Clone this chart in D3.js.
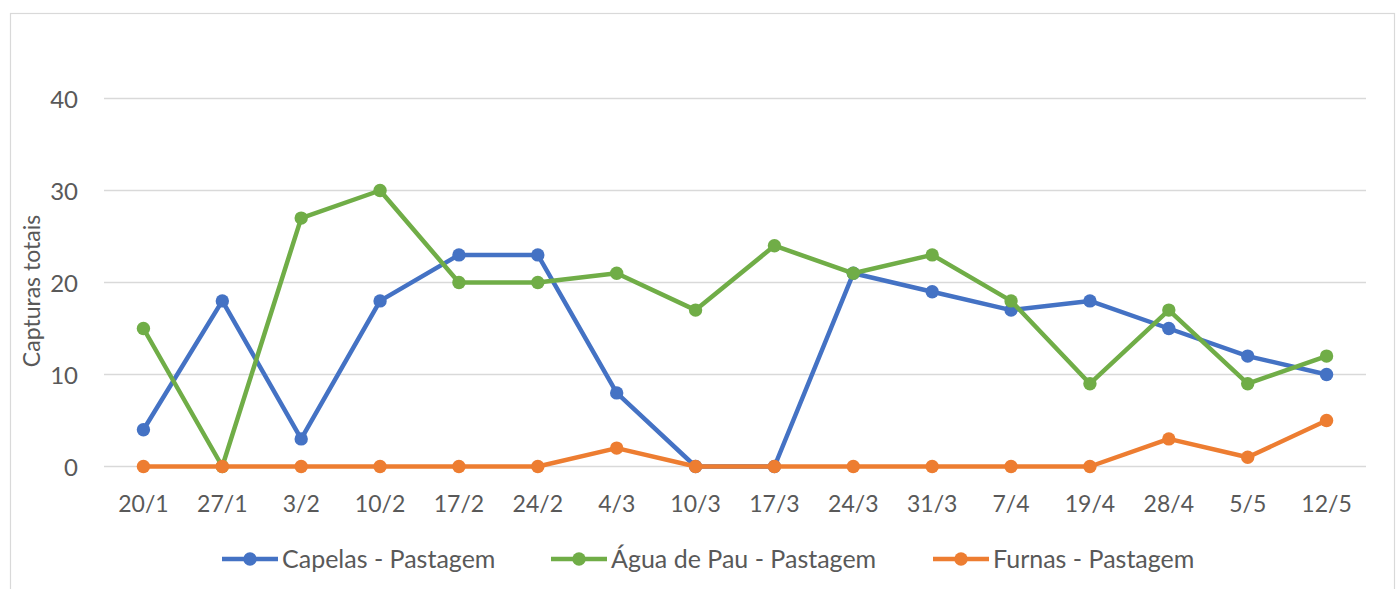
<!DOCTYPE html>
<html><head><meta charset="utf-8">
<script src="https://cdn.jsdelivr.net/npm/d3@7"></script>
<style>body{margin:0;background:#fff}svg{display:block}</style>
</head><body>
<svg id="c" width="1396" height="589"></svg>
<script>
const categories = ["20/1","27/1","3/2","10/2","17/2","24/2","4/3","10/3","17/3","24/3","31/3","7/4","19/4","28/4","5/5","12/5"];
const capelas = [4,18,3,18,23,23,8,0,0,21,19,17,18,15,12,10];
const aguaDePau = [15,0,27,30,20,20,21,17,24,21,23,18,9,17,9,12];
const furnas = [0,0,0,0,0,0,2,0,0,0,0,0,0,3,1,5];
const yTicks = [0,10,20,30,40];
const seriesNames = ["Capelas - Pastagem","Água de Pau - Pastagem","Furnas - Pastagem"];
const colors = ["#4472C4","#70AD47","#ED7D31"];
const series = [capelas, aguaDePau, furnas];

const svg = d3.select("#c");
const font = "Lato, 'Open Sans', sans-serif";
svg.append("rect").attr("x",10.5).attr("y",13.5).attr("width",1384).attr("height",600)
  .attr("fill","#fff").attr("stroke","#d9d9d9").attr("stroke-width",1.2);

const x = d3.scaleBand().domain(categories).range([104,1366]);
const y = d3.scaleLinear().domain([0,40]).range([466.5,98.5]);

const g = svg.append("g");
g.selectAll("line.grid").data(yTicks).join("line")
  .attr("x1",104).attr("x2",1366).attr("y1",d=>y(d)).attr("y2",d=>y(d))
  .attr("stroke","#d9d9d9").attr("stroke-width",1.3);

const yAxis = g.append("g").attr("transform","translate(104,0)")
  .call(d3.axisLeft(y).tickValues(yTicks).tickSize(0).tickPadding(26));
yAxis.select(".domain").remove();
yAxis.selectAll("text").attr("font-family",font).attr("font-size",24).attr("fill","#595959").attr("dy","0.36em");

const xAxis = g.append("g").attr("transform","translate(0,466.5)")
  .call(d3.axisBottom(x).tickSize(0).tickPadding(29));
xAxis.select(".domain").remove();
xAxis.selectAll("text").attr("font-family",font).attr("font-size",23).attr("fill","#595959");

svg.append("text").attr("transform","translate(39.5,291) rotate(-90)")
  .attr("text-anchor","middle").attr("font-family",font).attr("font-size",23).attr("fill","#595959")
  .text("Capturas totais");

const cx = d => x(d) + x.bandwidth()/2;
const line = d3.line().x((d,i)=>cx(categories[i])).y(d=>y(d));
series.forEach((s,k)=>{
  svg.append("path").datum(s).attr("d",line).attr("fill","none")
    .attr("stroke",colors[k]).attr("stroke-width",4.5).attr("stroke-linejoin","round");
  svg.append("g").selectAll("circle").data(s).join("circle")
    .attr("cx",(d,i)=>cx(categories[i])).attr("cy",d=>y(d)).attr("r",6.7).attr("fill",colors[k]);
});

// legend
const legX = [222, 551, 933];
const legY = 559;
seriesNames.forEach((n,k)=>{
  const lg = svg.append("g").attr("transform",`translate(${legX[k]},${legY})`);
  lg.append("line").attr("x1",0).attr("x2",56).attr("y1",0).attr("y2",0)
    .attr("stroke",colors[k]).attr("stroke-width",4.5);
  lg.append("circle").attr("cx",28).attr("cy",0).attr("r",6.7).attr("fill",colors[k]);
  lg.append("text").attr("x",60).attr("y",0).attr("dy","0.36em").attr("font-family",font)
    .attr("font-size",25).attr("fill","#595959").text(n);
});
</script>
</body></html>
